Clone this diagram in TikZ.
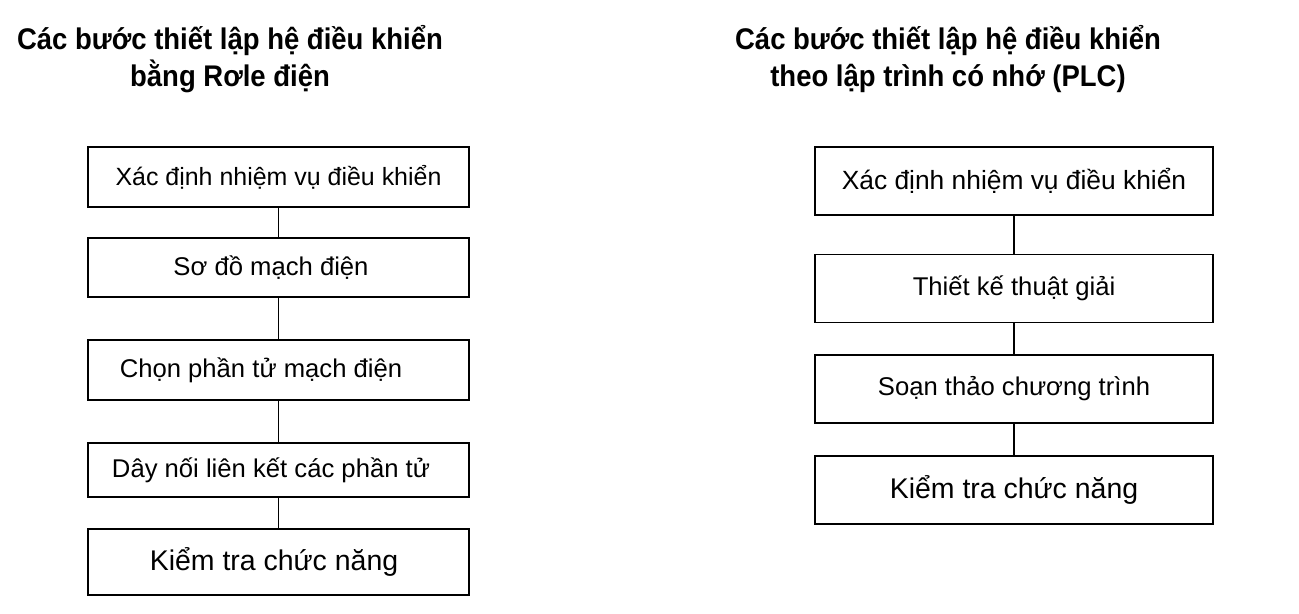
\documentclass[tikz,border=0pt]{standalone}
\usepackage{fontspec}
\setmainfont{Liberation Sans}
\newfontfamily\tieudefont{Liberation Sans}[FakeStretch=0.92]
\usetikzlibrary{positioning}

\begin{document}
\begin{tikzpicture}[x=0.02cm,y=-0.02cm,
	buoc/.style={draw,line width=0.9pt,inner sep=0pt,minimum width=7.62cm,minimum height=1.2cm,font=\fontsize{14.6}{17}\selectfont},
	buocp/.style={buoc,minimum width=7.96cm,minimum height=1.36cm},
	co/.style={font=\fontsize{#1}{17}\selectfont},
	tieude/.style={align=center,font=\tieudefont\bfseries\fontsize{17}{21}\selectfont},
	noi/.style={line width=1pt}]
				%%%%% KHUNG %%%%%
				\useasboundingbox (0,0) rectangle (1299,613);
				\def\xl{278.5}
				\def\xr{1014}

				%%%%% RO LE %%%%%
				\node[tieude] (tdrole) at (230,59) {Các bước thiết lập hệ điều khiển\\bằng Rơle điện};
				\node[buoc,co=14.2] (r1) at (\xl,177) {Xác định nhiệm vụ điều khiển};
				\node[buoc,minimum height=1.18cm] (r2) at (\xl,267.5) {\hspace*{-0.3cm}Sơ đồ mạch điện};
				\node[buoc] (r3) at (\xl,370) {\hspace*{-0.7cm}Chọn phần tử mạch điện};
				\node[buoc,minimum height=1.08cm] (r4) at (\xl,470) {\hspace*{-0.3cm}Dây nối liên kết các phần tử};
				\node[buoc,co=16.2,minimum height=1.32cm] (r5) at (\xl,562) {\hspace*{-0.18cm}Kiểm tra chức năng};
				\foreach \i/\j in {1/2,2/3,3/4,4/5}
					\draw[noi] (r\i) -- (r\j);

				%%%%% PLC %%%%%
				\node[tieude] (tdplc) at (948,59) {Các bước thiết lập hệ điều khiển\\theo lập trình có nhớ (PLC)};
				\node[buocp,co=15] (p1) at (\xr,181) {Xác định nhiệm vụ điều khiển};
				\node[buocp] (p2) at (\xr,288.5) {Thiết kế thuật giải};
				\node[buocp] (p3) at (\xr,389) {Soạn thảo chương trình};
				\node[buocp,co=16.2] (p4) at (\xr,490) {Kiểm tra chức năng};
				\foreach \i/\j in {1/2,2/3,3/4}
					\draw[noi] (p\i) -- (p\j);
				%%%%% HET %%%%%
\end{tikzpicture}
\end{document}
